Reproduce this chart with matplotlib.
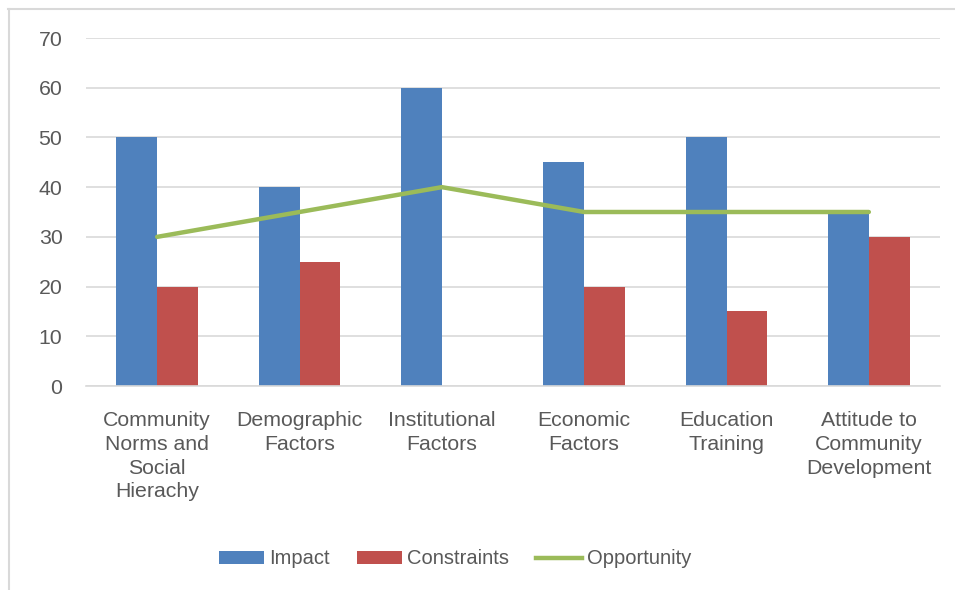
import matplotlib.pyplot as plt
import numpy as np
from matplotlib.patches import Patch
from matplotlib.lines import Line2D

categories = [
    "Community\nNorms and\nSocial\nHierachy",
    "Demographic\nFactors",
    "Institutional\nFactors",
    "Economic\nFactors",
    "Education\nTraining",
    "Attitude to\nCommunity\nDevelopment",
]
impact = [50, 40, 60, 45, 50, 35]
constraints = [20, 25, 0, 20, 15, 30]
opportunity = [30, 35, 40, 35, 35, 35]

blue = "#4F81BD"
red = "#C0504D"
green = "#9BBB59"
text_color = "#595959"
grid_color = "#D9D9D9"

plt.rcParams["font.family"] = ["Liberation Sans", "DejaVu Sans"]

fig = plt.figure(figsize=(9.55, 5.9), dpi=100)
ax = fig.add_axes([86 / 955, 1 - 386 / 590, (940 - 86) / 955, (386 - 38) / 590])

x = np.arange(len(categories))
w = 0.288
ax.bar(x - w / 2, impact, w, color=blue, zorder=2)
ax.bar(x + w / 2, constraints, w, color=red, zorder=2)
ax.plot(x, opportunity, color=green, lw=3.2, solid_capstyle="round", zorder=3)

ax.set_xlim(-0.5, len(categories) - 0.5)
ax.set_ylim(0, 70)
ax.set_yticks(range(0, 71, 10))
ax.set_xticks(x)
ax.set_xticklabels(categories, fontsize=15.3, color=text_color, linespacing=1.32)
ax.tick_params(axis="y", labelsize=15.3, labelcolor=text_color, length=0, pad=17)
ax.tick_params(axis="x", length=0, pad=18)
ax.grid(axis="y", color=grid_color, lw=1.2, zorder=0)
for s in ["top", "right", "left"]:
    ax.spines[s].set_visible(False)
ax.spines["bottom"].set_color(grid_color)
ax.spines["bottom"].set_linewidth(1.2)

# chart border (top and left edges visible)
fig.add_artist(Line2D([8 / 955, 1.0], [1 - 9 / 590] * 2, color=grid_color, lw=1.5,
                      transform=fig.transFigure))
fig.add_artist(Line2D([9 / 955] * 2, [0, 1 - 9 / 590], color=grid_color, lw=1.5,
                      transform=fig.transFigure))

handles = [
    Patch(facecolor=blue, label="Impact"),
    Patch(facecolor=red, label="Constraints"),
    Line2D([0], [0], color=green, lw=3.2, label="Opportunity"),
]
leg = fig.legend(handles=handles, loc="center", bbox_to_anchor=(455 / 955, 1 - 559 / 590),
                 ncol=3, frameon=False, fontsize=14.5, handlelength=2.25, handleheight=0.6,
                 handletextpad=0.25, columnspacing=1.35)
for t in leg.get_texts():
    t.set_color(text_color)

fig.savefig("out.png", dpi=100)
